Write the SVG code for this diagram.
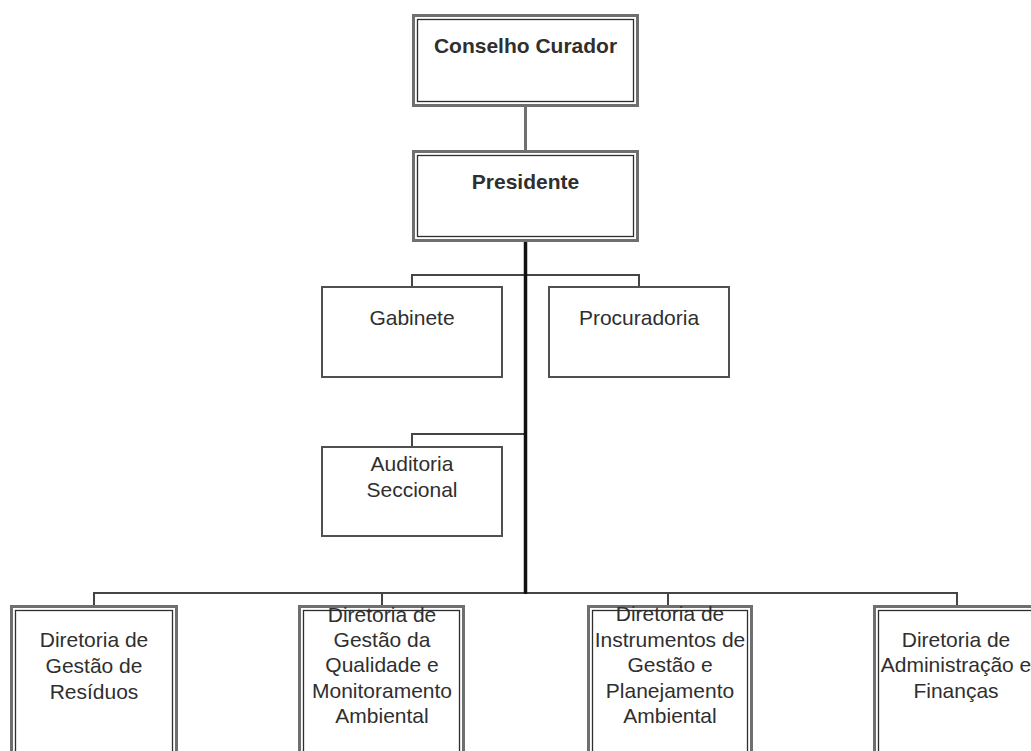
<svg xmlns="http://www.w3.org/2000/svg" width="1031" height="751" viewBox="0 0 1031 751">
  <style>
    .outer { fill: #ffffff; stroke: #6f6f6f; stroke-width: 3; }
    .inner { fill: none; stroke: #2e2e2e; stroke-width: 1.3; }
    .single { fill: #ffffff; stroke: #505050; stroke-width: 2; }
    .branch { fill: none; stroke: #454545; stroke-width: 2; }
    .trunk { fill: none; stroke: #111111; stroke-width: 3.5; }
    .link { fill: none; stroke: #6f6f6f; stroke-width: 3; }
    text { font-family: "Liberation Sans", Arial, sans-serif; font-size: 21px; fill: #2f2f2f; text-anchor: middle; }
    .bold { font-weight: bold; }
  </style>
  <rect width="1031" height="751" fill="#ffffff"/>

  <!-- connectors -->
  <g id="connectors">
    <line class="link" x1="525.5" y1="107" x2="525.5" y2="150"/>
    <path class="branch" d="M412 286 V275 H639 V286"/>
    <path class="branch" d="M412 446 V434 H525"/>
    <path class="branch" d="M94 605 V593 H957 V605"/>
    <path class="branch" d="M382 605 V593"/>
    <path class="branch" d="M668 605 V593"/>
    <line class="trunk" x1="525.5" y1="242" x2="525.5" y2="594"/>
  </g>

  <!-- top management -->
  <g id="conselho-curador">
    <rect class="outer" x="413.5" y="15.5" width="224" height="90"/>
    <rect class="inner" x="417.5" y="19.5" width="216" height="82"/>
    <text class="bold" x="525.5" y="53">Conselho Curador</text>
  </g>
  <g id="presidente">
    <rect class="outer" x="413.5" y="151.5" width="224" height="89"/>
    <rect class="inner" x="417.5" y="155.5" width="216" height="81"/>
    <text class="bold" x="525.5" y="189">Presidente</text>
  </g>

  <!-- staff units -->
  <g id="gabinete">
    <rect class="single" x="322" y="287" width="180" height="90"/>
    <text x="412" y="325">Gabinete</text>
  </g>
  <g id="procuradoria">
    <rect class="single" x="549" y="287" width="180" height="90"/>
    <text x="639" y="325">Procuradoria</text>
  </g>
  <g id="auditoria-seccional">
    <rect class="single" x="322" y="447" width="180" height="89"/>
    <text x="412" y="471">Auditoria</text>
    <text x="412" y="497">Seccional</text>
  </g>

  <!-- directorates -->
  <g id="dir-residuos">
    <rect class="outer" x="11.5" y="606.5" width="165" height="160"/>
    <rect class="inner" x="15.5" y="610.5" width="157" height="152"/>
    <text x="94" y="647">Diretoria de</text>
    <text x="94" y="673">Gestão de</text>
    <text x="94" y="699">Resíduos</text>
  </g>
  <g id="dir-qualidade">
    <rect class="outer" x="299.5" y="606.5" width="164" height="160"/>
    <rect class="inner" x="303.5" y="610.5" width="156" height="152"/>
    <text x="382" y="622">Diretoria de</text>
    <text x="382" y="647">Gestão da</text>
    <text x="382" y="672">Qualidade e</text>
    <text x="382" y="698">Monitoramento</text>
    <text x="382" y="723">Ambiental</text>
  </g>
  <g id="dir-instrumentos">
    <rect class="outer" x="588.5" y="606.5" width="163" height="160"/>
    <rect class="inner" x="592.5" y="610.5" width="155" height="152"/>
    <text x="670" y="621">Diretoria de</text>
    <text x="670" y="647">Instrumentos de</text>
    <text x="670" y="672">Gestão e</text>
    <text x="670" y="698">Planejamento</text>
    <text x="670" y="723">Ambiental</text>
  </g>
  <g id="dir-administracao">
    <rect class="outer" x="874.5" y="606.5" width="166" height="160"/>
    <rect class="inner" x="878.5" y="610.5" width="158" height="152"/>
    <text x="956" y="647">Diretoria de</text>
    <text x="956" y="672">Administração e</text>
    <text x="956" y="698">Finanças</text>
  </g>
</svg>
